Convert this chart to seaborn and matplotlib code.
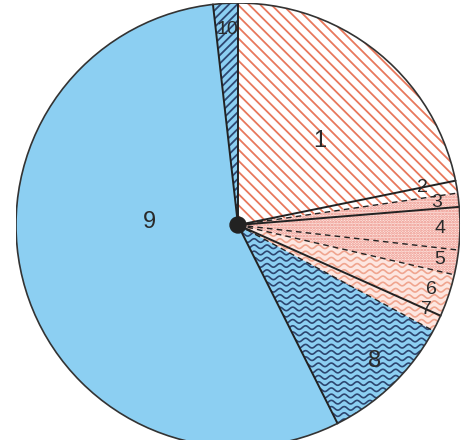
import numpy as np
import matplotlib
matplotlib.use("Agg")
import matplotlib.pyplot as plt
from matplotlib.collections import LineCollection
import seaborn as sns

# slice shares in percent, clockwise from 12 o'clock
labels = ["1", "2", "3", "4", "5", "6", "7", "8", "9", "10"]
shares = [21.8, 0.9, 1.0, 3.1, 1.8, 3.1, 1.2, 9.7, 55.6, 1.8]
# which slices belong to the same group (separated by dashed lines)
groups = [0, 0, 1, 1, 1, 2, 2, 3, 4, 5]

BLUE = "#8ccff2"
RED = "#e8785c"
NAVY = "#2d4670"
PINK_BG = "#fde6e0"

face = ["white", "white", PINK_BG, PINK_BG, PINK_BG, PINK_BG, PINK_BG, BLUE, BLUE, BLUE]
hatch_col = [RED, RED, "#ec8f86", "#ec8f86", "#ec8f86", RED, RED, NAVY, BLUE, NAVY]
hatches = ["\\\\\\", "\\\\\\", "......", "......", "......", None, None, None, None, "////"]
wavy = [None, None, None, None, None, "#f0a58f", "#f0a58f", NAVY, None, None]

# label position: (angle offset in deg from slice middle, radius)
label_pos = [(-5, 0.53), (1.7, 0.85), (0, 0.90), (0, 0.91), (0, 0.92),
             (0, 0.92), (2.2, 0.93), (1, 0.87), (-18.4, 0.40), (0, 0.88)]
label_size = [17, 14, 14, 14, 14, 14, 14, 17, 17, 14]

sns.set_theme(style="white")
plt.rcParams["font.family"] = ["Liberation Sans", "DejaVu Sans"]
plt.rcParams["hatch.linewidth"] = 1.3

W, H = 467, 440
fig = plt.figure(figsize=(W / 100, H / 100), dpi=100)
cx, cy, R = 238, 225, 222
ax = fig.add_axes([(cx - R) / W, (H - cy - R) / H, 2 * R / W, 2 * R / H])

wedges, _ = ax.pie(shares, startangle=90, counterclock=False, radius=1,
                   colors=face, wedgeprops=dict(linewidth=0))
for w, hc, h in zip(wedges, hatch_col, hatches):
    w.set_edgecolor(hc)
    w.set_linewidth(0)
    if h:
        w.set_hatch(h)

# wavy texture
xs = np.linspace(-1.05, 1.05, 700)
for w, col in zip(wedges, wavy):
    if col is None:
        continue
    segs = []
    for y0 in np.arange(-1.05, 1.05, 0.028):
        segs.append(np.column_stack([xs, y0 + 0.008 * np.sin(2 * np.pi * xs / 0.058)]))
    lc = LineCollection(segs, colors=col, linewidths=1.2, zorder=2)
    ax.add_collection(lc)
    lc.set_clip_path(w)

# boundary lines
for i, w in enumerate(wedges):
    ang = np.deg2rad(w.theta1)
    dashed = groups[i - 1] == groups[i]
    ax.plot([0, np.cos(ang)], [0, np.sin(ang)], color="#222222",
            lw=1.0 if dashed else 1.4, ls=(0, (4, 3)) if dashed else "-",
            zorder=4)
ax.add_patch(plt.Circle((0, 0), 1, fill=False, color="#333333", lw=1.2, zorder=4))
ax.add_patch(plt.Circle((0, 0), 0.036, color="#222222", zorder=5))

for w, lab, (da, r), fs in zip(wedges, labels, label_pos, label_size):
    mid = np.deg2rad((w.theta1 + w.theta2) / 2 + da)
    ax.text(r * np.cos(mid), r * np.sin(mid), lab, ha="center", va="center",
            fontsize=fs, color="#2a2a2a", zorder=6)

ax.set_xlim(-1, 1)
ax.set_ylim(-1, 1)
ax.set_aspect("auto")
ax.axis("off")
fig.savefig("out.png", dpi=100)
